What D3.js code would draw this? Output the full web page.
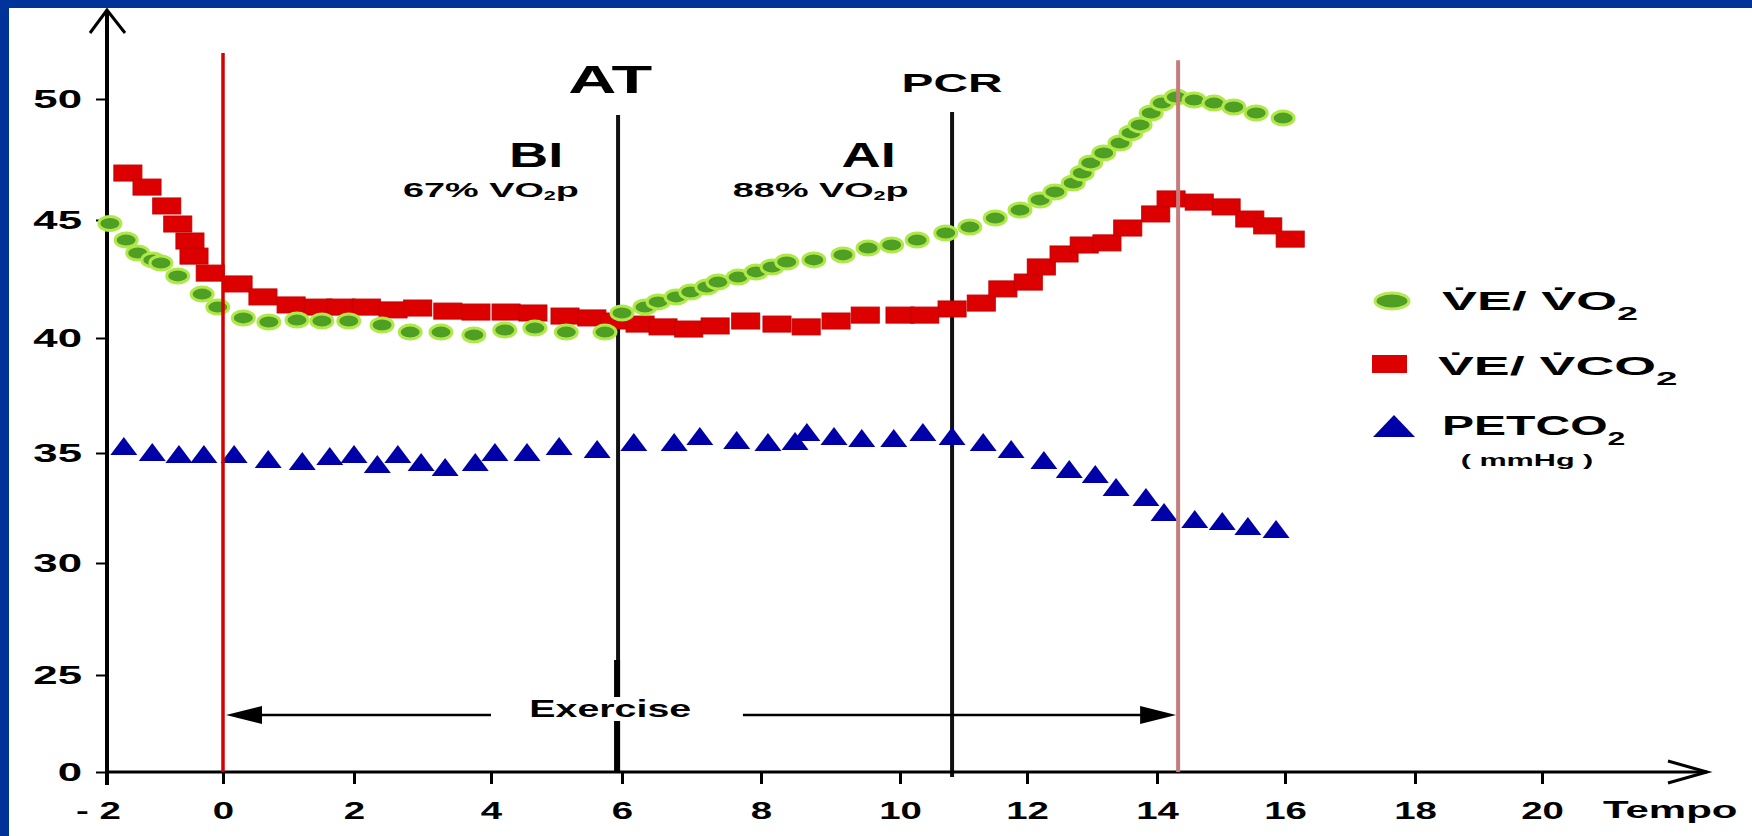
<!DOCTYPE html>
<html>
<head>
<meta charset="utf-8">
<script src="https://cdn.jsdelivr.net/npm/d3@7"></script>
<style>
html, body { margin: 0; background: #fff; overflow: hidden; }
svg { display: block; }
svg text { font-family: "Liberation Sans", Arial, sans-serif; font-weight: bold; fill: #000; }
</style>
</head>
<body>
<svg id="chart" width="1752" height="836"></svg>
<script>
// Data (time in minutes, values)
const xTicks = [-2, 0, 2, 4, 6, 8, 10, 12, 14, 16, 18, 20];
const yTicks = [0, 25, 30, 35, 40, 45, 50];

// VE/VO2 (green circles)
const veVo2Time = [-1.95, -1.67, -1.47, -1.21, -1.07, -0.78, -0.36, -0.09, 0.31, 0.70, 1.13, 1.51, 1.92, 2.41, 2.82, 3.27, 3.75, 4.21, 4.67, 5.15, 5.74,
  6.00, 6.33, 6.52, 6.78, 6.99, 7.22, 7.38, 7.67, 7.93, 8.16, 8.37, 8.76, 9.18, 9.54, 9.88, 10.27, 10.72, 11.10, 11.50, 11.89,
  12.20, 12.43, 12.71, 12.85, 12.98, 13.18, 13.43, 13.60, 13.74, 13.91, 14.08, 14.30, 14.58, 14.89, 15.20, 15.55, 15.97];
const veVo2 = [44.85, 44.15, 43.60, 43.31, 43.18, 42.63, 41.86, 41.31, 40.85, 40.68, 40.76, 40.72, 40.72, 40.55, 40.25, 40.25, 40.13, 40.34, 40.42, 40.25, 40.25,
  41.06, 41.31, 41.53, 41.74, 41.95, 42.16, 42.37, 42.58, 42.80, 43.01, 43.22, 43.31, 43.52, 43.81, 43.94, 44.15, 44.45, 44.70, 45.08, 45.41,
  45.83, 46.16, 46.53, 46.94, 47.36, 47.77, 48.18, 48.60, 48.93, 49.42, 49.83, 50.08, 49.96, 49.83, 49.67, 49.42, 49.21];

// VE/VCO2 (red squares)
const veVco2Time = [-1.64, -1.31, -0.97, -0.78, -0.57, -0.50, -0.22, 0.23, 0.61, 1.04, 1.45, 1.80, 2.18, 2.57, 2.93, 3.37, 3.78, 4.23, 4.64, 5.13, 5.54, 5.89,
  6.26, 6.59, 6.96, 7.34, 7.78, 8.23, 8.65, 9.08, 9.50, 10.00, 10.39, 10.82, 11.28, 11.62, 12.02, 12.22, 12.57, 12.88, 13.23, 13.55, 13.98,
  14.22, 14.66, 15.08, 15.45, 15.73, 16.08];
const veVco2 = [46.94, 46.36, 45.58, 44.83, 44.11, 43.47, 42.75, 42.29, 41.74, 41.40, 41.31, 41.31, 41.31, 41.19, 41.27, 41.14, 41.10, 41.10, 41.06, 40.93, 40.85, 40.72,
  40.59, 40.47, 40.38, 40.51, 40.72, 40.59, 40.47, 40.72, 40.97, 40.97, 40.97, 41.23, 41.48, 42.08, 42.37, 43.01, 43.56, 43.94, 44.03, 44.66, 45.25,
  45.87, 45.74, 45.54, 45.04, 44.75, 44.19];

// PETCO2 mmHg (blue triangles)
const petco2Time = [-1.71, -1.22, -0.76, -0.33, 0.17, 0.69, 1.21, 1.63, 2.00, 2.34, 2.64, 2.98, 3.33, 3.77, 4.06, 4.55, 5.04, 5.62, 6.17,
  6.75, 7.12, 7.65, 8.10, 8.49, 8.66, 9.05, 9.45, 9.91, 10.36, 10.82, 11.31, 11.75, 12.26, 12.65, 13.05, 13.37, 13.83, 14.11, 14.59, 15.02, 15.42, 15.86];
const petco2 = [35.30, 35.04, 34.95, 34.95, 34.95, 34.73, 34.64, 34.86, 34.95, 34.50, 34.95, 34.59, 34.36, 34.59, 35.04, 35.04, 35.30, 35.17, 35.48,
  35.48, 35.74, 35.57, 35.48, 35.52, 35.91, 35.74, 35.65, 35.65, 35.91, 35.74, 35.48, 35.17, 34.68, 34.27, 34.05, 33.45, 33.00, 32.32, 32.00, 31.91, 31.68, 31.55];

// Event lines (time)
const tStart = 0, tAT = 5.94, tPCR = 10.82, tEnd = 14.33;

// ---- layout ----
const svg = d3.select("#chart");
const W = 1752, H = 836;

// hand drawn axes: spacing of the ticks is not even, so the scales are polylinear
const x = d3.scaleLinear().domain(xTicks)
  .range([107, 223, 354, 491, 622, 761, 900, 1027, 1157, 1285, 1415, 1542]);
const y = d3.scaleLinear().domain(yTicks)
  .range([772, 675, 563, 453, 338, 220, 99]);

// blue frame of the slide (top and left only)
svg.append("rect").attr("width", W).attr("height", H).attr("fill", "#fff");
svg.append("rect").attr("width", W).attr("height", 8).attr("fill", "#003399");
svg.append("rect").attr("width", 9).attr("height", H).attr("fill", "#003399");

// stretched text helper (the picture is widened horizontally)
function label(str, px, py, size, sx, anchor) {
  return svg.append("text")
    .attr("transform", `translate(${px},${py}) scale(${sx},1)`)
    .attr("font-size", size)
    .attr("text-anchor", anchor || "middle")
    .text(str);
}

// AT and PCR lines (under the markers)
svg.append("line").attr("x1", x(tAT)).attr("x2", x(tAT)).attr("y1", y(49.34)).attr("y2", y(0))
  .attr("stroke", "#111").attr("stroke-width", 4);
svg.append("line").attr("x1", x(tAT) - 1).attr("x2", x(tAT) - 1).attr("y1", 660).attr("y2", y(0))
  .attr("stroke", "#000").attr("stroke-width", 6);
svg.append("line").attr("x1", x(tPCR)).attr("x2", x(tPCR)).attr("y1", y(49.46)).attr("y2", y(0) + 5)
  .attr("stroke", "#111").attr("stroke-width", 4);

// Exercise arrows
const yEx = y(14.7);
function arrow(from, to) {
  const dir = Math.sign(to - from);
  svg.append("line").attr("x1", from).attr("x2", to - dir * 30).attr("y1", yEx).attr("y2", yEx)
    .attr("stroke", "#000").attr("stroke-width", 2.5);
  svg.append("path")
    .attr("d", `M${to},${yEx} L${to - dir * 36},${yEx - 9} L${to - dir * 36},${yEx + 9} Z`)
    .attr("fill", "#000");
}
arrow(x(4.0), x(tStart) + 3);
arrow(x(7.74), x(tEnd) - 2);

// "Exercise" with a white box that breaks the AT line
svg.append("rect").attr("x", 527).attr("y", 697).attr("width", 166).attr("height", 24).attr("fill", "#fff");
label("Exercise", x(5.82), 717, 24, 1.64);

// axes
const gx = svg.append("g").attr("transform", `translate(0,${y(0)})`)
  .call(d3.axisBottom(x).tickValues(xTicks).tickSize(12)
    .tickFormat(d => d < 0 ? "- " + (-d) : d));
gx.select(".domain").remove();
gx.selectAll(".tick line").attr("stroke", "#000").attr("stroke-width", 3);
gx.selectAll(".tick text")
  .attr("y", 0).attr("dy", 0).attr("font-size", 24)
  .attr("transform", d => `translate(${d < 0 ? -9 : 0},47) scale(1.6,1)`);

const gy = svg.append("g").attr("transform", `translate(${x(-2)},0)`)
  .call(d3.axisLeft(y).tickValues(yTicks).tickSize(11));
gy.select(".domain").remove();
gy.selectAll(".tick line").attr("stroke", "#000").attr("stroke-width", 2);
gy.selectAll(".tick text")
  .attr("x", 0).attr("dy", 0).attr("font-size", 25)
  .attr("transform", "translate(-25,8) scale(1.75,1)");

// axis lines with open arrow heads
svg.append("line").attr("x1", x(-2)).attr("x2", x(-2)).attr("y1", y(0) + 13).attr("y2", 10)
  .attr("stroke", "#000").attr("stroke-width", 4);
svg.append("path").attr("d", `M${x(-2) - 17},33 L${x(-2)},10 L${x(-2) + 18},33`)
  .attr("fill", "none").attr("stroke", "#000").attr("stroke-width", 3);
svg.append("line").attr("x1", x(-2)).attr("x2", 1707).attr("y1", y(0)).attr("y2", y(0))
  .attr("stroke", "#000").attr("stroke-width", 3);
svg.append("path").attr("d", `M1668,${y(0) - 11} L1707,${y(0)} L1668,${y(0) + 11}`)
  .attr("fill", "none").attr("stroke", "#000").attr("stroke-width", 3);
label("Tempo", 1603, 818, 24, 1.75, "start");

// markers
const red = veVco2Time.map((t, i) => ({ t, v: veVco2[i] }));
const green = veVo2Time.map((t, i) => ({ t, v: veVo2[i] }));
const blue = petco2Time.map((t, i) => ({ t, v: petco2[i] }));

svg.append("g").selectAll("rect").data(red).join("rect")
  .attr("x", d => x(d.t) - 14).attr("y", d => y(d.v) - 8)
  .attr("width", 28).attr("height", 16)
  .attr("fill", "#dd0000").attr("stroke", "#c40000").attr("stroke-width", 1);

svg.append("g").selectAll("ellipse").data(green).join("ellipse")
  .attr("cx", d => x(d.t)).attr("cy", d => y(d.v))
  .attr("rx", 11).attr("ry", 7)
  .attr("fill", "#4f9f24").attr("stroke", "#b0e84a").attr("stroke-width", 3);

const tri = (cx, cy, w, h) => `M${cx - w / 2},${cy + h / 2} L${cx},${cy - h / 2} L${cx + w / 2},${cy + h / 2} Z`;
svg.append("g").selectAll("path").data(blue).join("path")
  .attr("d", d => tri(x(d.t), y(d.v), 27, 18))
  .attr("fill", "#0000a8");

// start and end of exercise lines (drawn over the markers)
svg.append("line").attr("x1", x(tStart)).attr("x2", x(tStart)).attr("y1", y(51.9)).attr("y2", y(0))
  .attr("stroke", "#d40000").attr("stroke-width", 3.5);
svg.append("line").attr("x1", x(tEnd)).attr("x2", x(tEnd)).attr("y1", y(51.6)).attr("y2", y(0))
  .attr("stroke", "#c47c7c").attr("stroke-width", 4);

// labels of the thresholds
label("AT", x(5.82), 93, 39, 1.71);
label("PCR", x(tPCR), 92, 26, 1.84);
label("BI", x(4.69), 167, 35, 1.55);
label("AI", x(9.55), 167, 35, 1.55);
function pct(str, px) {
  const t = svg.append("text")
    .attr("transform", `translate(${px},197) scale(1.8,1)`)
    .attr("font-size", 21).attr("text-anchor", "middle");
  t.append("tspan").text(str + " VO");
  t.append("tspan").attr("font-size", 12).attr("dy", 3).text("2");
  t.append("tspan").attr("dy", -3).text("p");
}
pct("67%", x(4.0));
pct("88%", x(8.86));

// legend
const leg = svg.append("g");
leg.append("ellipse").attr("cx", 1392).attr("cy", 301).attr("rx", 17).attr("ry", 8)
  .attr("fill", "#4f9f24").attr("stroke", "#b8e858").attr("stroke-width", 3);
leg.append("rect").attr("x", 1372).attr("y", 355).attr("width", 35).attr("height", 18).attr("fill", "#dd0000");
leg.append("path").attr("d", tri(1394, 426, 42, 22)).attr("fill", "#0000a8");

function legText(main, px, py, size, sx) {
  const t = svg.append("text")
    .attr("transform", `translate(${px},${py}) scale(${sx},1)`)
    .attr("font-size", size);
  t.append("tspan").text(main);
  t.append("tspan").attr("font-size", 18).attr("dy", 10).text("2");
  return t;
}
legText("V\u0307E/ V\u0307O", 1442, 310, 25, 2.1);
legText("V\u0307E/ V\u0307CO", 1438, 375, 25, 2.15);
legText("PETCO", 1442, 435, 27, 1.78);
label("( mmHg )", 1527, 466, 17, 1.8).attr("fill", "#222");
</script>
</body>
</html>
